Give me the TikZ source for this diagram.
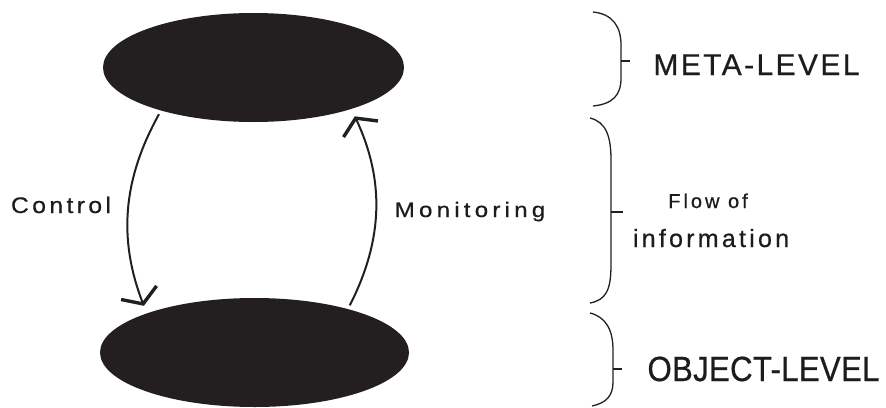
\documentclass[tikz,border=0pt]{standalone}
\usepackage{fontspec}
\newfontfamily\lblfont[FakeBold=0.6]{Liberation Sans}
\usetikzlibrary{shapes.geometric, arrows.meta}
\definecolor{myink}{RGB}{35,31,32}
\definecolor{mytext}{RGB}{28,28,28}
\tikzset{
  blob/.style={ellipse, fill=myink, draw=none, inner sep=0pt},
  flowarc/.style={line width=2pt, color=myink, shorten <=4pt, shorten >=8pt},
  barb/.style={-{Straight Barb[length=12pt, width=38pt, line width=3.4pt]}},
  levelbrace/.style={line width=1.3pt, color=myink},
  lvltext/.style={anchor=base, text=mytext, inner sep=0pt}
}

\begin{document}
\begin{tikzpicture}[x=1pt, y=-1pt]
  \useasboundingbox (0,0) rectangle (886,407);

  % Meta-level and object-level
  \node[blob, minimum width=301pt, minimum height=109pt] (meta) at (253.5,67.5) {};
  \node[blob, minimum width=309pt, minimum height=109pt] (object) at (254.5,352.5) {};

  % Control and monitoring
  \draw[flowarc, barb] (meta.205) to[bend right=25] (object.160);
  \draw[flowarc, barb] (object.25) to[bend right=26] (meta.337);
  \node[lvltext, font=\lblfont\fontsize{22.5}{27}\selectfont\addfontfeatures{FakeStretch=1.1,LetterSpace=15}] (ctrl) at (61,213) {Control};
  \node[lvltext, font=\lblfont\fontsize{21}{25}\selectfont\addfontfeatures{FakeStretch=1.15,LetterSpace=20}] (mon) at (470,217) {Monitoring};

  % Braces
  \draw[levelbrace] (593,12) .. controls (613,14) and (621,27) .. (621,45) -- (621,78) .. controls (621,95) and (613,104) .. (593,106);
  \draw[levelbrace] (621,61) -- (630,61);
  \draw[levelbrace] (590,118) .. controls (606,122) and (611,136) .. (611,160) -- (611,265) .. controls (611,290) and (606,300) .. (590,303);
  \draw[levelbrace] (611,212) -- (623,212);
  \draw[levelbrace] (590,313) .. controls (606,317) and (613,330) .. (613,350) -- (613,382) .. controls (613,396) and (606,403) .. (592,406);
  \draw[levelbrace] (613,369) -- (622,369);

  % Level labels
  \node[lvltext, font=\lblfont\fontsize{30}{36}\selectfont\addfontfeatures{LetterSpace=8}] (metalbl) at (756.5,75) {META-LEVEL};
  \node[lvltext, font=\lblfont\fontsize{35}{42}\selectfont\addfontfeatures{LetterSpace=1}] (objlbl) at (763.5,381) {\scalebox{0.89}[1]{OBJECT-LEVEL}};
  \node[lvltext, font=\lblfont\fontsize{20}{24}\selectfont\addfontfeatures{LetterSpace=15}] (flow) at (708,208) {Flow of};
  \node[lvltext, font=\lblfont\fontsize{25}{30}\selectfont\addfontfeatures{LetterSpace=13}] (info) at (711,247) {information};
\end{tikzpicture}
\end{document}
